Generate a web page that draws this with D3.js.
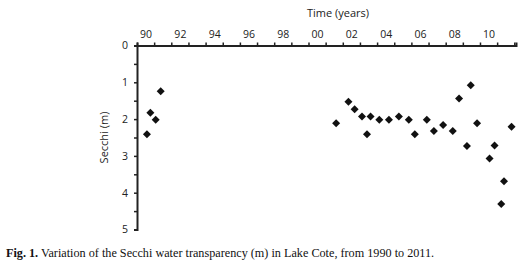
<!DOCTYPE html>
<html>
<head>
<meta charset="utf-8">
<script src="https://cdn.jsdelivr.net/npm/d3@7"></script>
<style>
  body { margin: 0; background: #fff; }
  .tick text { font-family: 'Open Sans', sans-serif; font-size: 10.5px; fill: #222; }
  .axis-label { font-family: 'Open Sans', sans-serif; font-size: 11px; fill: #222; }
  .caption { font-family: 'Liberation Serif', serif; font-size: 12.2px; fill: #111; }
</style>
</head>
<body>
<svg width="524" height="264"></svg>
<script>
const svg = d3.select('svg');

// decimal year of each sample
const years = [1990.58, 1990.78, 1991.09, 1991.38,
  2001.61, 2002.33, 2002.69, 2003.12, 2003.41, 2003.62, 2004.13, 2004.69,
  2005.27, 2005.85, 2006.20, 2006.90, 2007.31, 2007.85, 2008.41, 2008.78,
  2009.24, 2009.46, 2009.83, 2010.56, 2010.85, 2011.24, 2011.40, 2011.84];
// secchi depth (m)
const secchi = [2.41, 1.83, 2.02, 1.24,
  2.11, 1.53, 1.73, 1.93, 2.41, 1.93, 2.02, 2.02,
  1.93, 2.02, 2.41, 2.02, 2.32, 2.16, 2.32, 1.44,
  2.73, 1.08, 2.11, 3.07, 2.72, 4.31, 3.69, 2.21];
const yearLabels = ['90', '92', '94', '96', '98', '00', '02', '04', '06', '08', '10'];
const depthTicks = [0, 1, 2, 3, 4, 5];

const data = years.map((y, i) => ({year: y, depth: secchi[i]}));

const xScale = d3.scaleLinear().domain([1990, 2012.1]).range([137, 516]);
const yScale = d3.scaleLinear().domain([0, 5]).range([45.5, 229.5]);

// x axis on top: year ticks, labels centred on each even year
const xAxisG = svg.append('g')
    .attr('transform', `translate(0,${yScale(0)})`)
    .call(d3.axisTop(xScale)
        .tickValues(d3.range(1990, 2013))
        .tickSize(3)
        .tickFormat(''));
xAxisG.select('.domain').attr('stroke-width', 2).attr('stroke', '#222');
xAxisG.selectAll('.tick line').attr('stroke-width', 1.5).attr('stroke', '#222');

const xLabG = svg.append('g')
    .attr('transform', `translate(0,${yScale(0)})`)
    .call(d3.axisTop(xScale)
        .tickValues(yearLabels.map((d, i) => 1990.5 + i * 2))
        .tickSize(0)
        .tickPadding(8)
        .tickFormat((d, i) => yearLabels[i]));
xLabG.select('.domain').remove();

// y axis, minor ticks at half metres
const yMinor = svg.append('g')
    .attr('transform', `translate(${xScale(1990)},0)`)
    .call(d3.axisLeft(yScale)
        .tickValues(d3.range(0.5, 5, 1))
        .tickSize(3)
        .tickFormat(''));
yMinor.select('.domain').remove();
yMinor.selectAll('.tick line').attr('stroke-width', 1.5).attr('stroke', '#222');

const yAxisG = svg.append('g')
    .attr('transform', `translate(${xScale(1990)},0)`)
    .call(d3.axisLeft(yScale)
        .tickValues(depthTicks)
        .tickSize(3)
        .tickPadding(6)
        .tickFormat(d3.format('d')));
yAxisG.select('.domain').attr('stroke-width', 2).attr('stroke', '#222');
yAxisG.selectAll('.tick line').attr('stroke-width', 1.5).attr('stroke', '#222');

svg.append('text')
    .attr('class', 'axis-label')
    .attr('x', 338)
    .attr('y', 17)
    .attr('text-anchor', 'middle')
    .text('Time (years)');

svg.append('text')
    .attr('class', 'axis-label')
    .attr('transform', `translate(108,${yScale(2.5)}) rotate(-90)`)
    .attr('text-anchor', 'middle')
    .text('Secchi (m)');

const diamond = d3.symbol().type(d3.symbolSquare).size(32);
svg.append('g').selectAll('path')
    .data(data)
    .join('path')
    .attr('d', diamond)
    .attr('fill', '#111')
    .attr('transform', d => `translate(${xScale(d.year)},${yScale(d.depth)}) rotate(45)`);

const cap = svg.append('text')
    .attr('class', 'caption')
    .attr('x', 6)
    .attr('y', 257);
cap.append('tspan').attr('font-weight', 'bold').text('Fig. 1.');
cap.append('tspan').text(' Variation of the Secchi water transparency (m) in Lake Cote, from 1990 to 2011.');
</script>
</body>
</html>
